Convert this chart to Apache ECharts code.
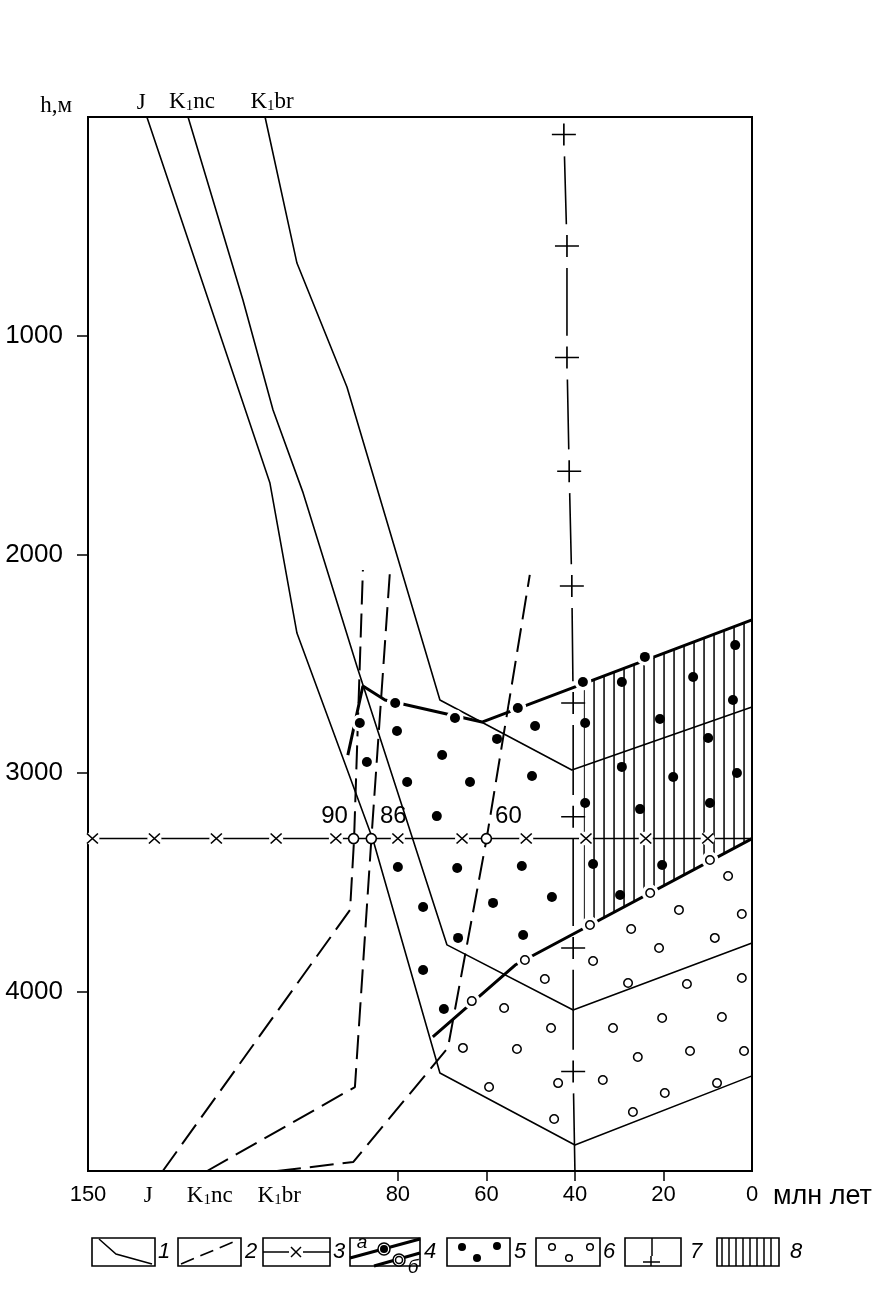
<!DOCTYPE html>
<html><head><meta charset="utf-8">
<script src="https://cdn.jsdelivr.net/npm/echarts@6/dist/echarts.min.js"></script>
<style>html,body{margin:0;padding:0;background:#fff}#c{width:893px;height:1309px}</style>
</head><body><div id="c"></div>
<script>
// ---------- DATA (time: млн лет, depth: м) ----------
const lineJ    = [[136.7,0],[108.9,1674],[102.8,2360],[85.6,3306],[70.5,4372],[40.0,4701],[0,4385]];
const lineK1nc = [[127.4,0],[115.0,837],[108.2,1340],[101.4,1719],[89.2,2515],[68.9,3786],[40.4,4084],[0,3777]];
const lineK1br = [[110.0,0],[102.8,668],[91.5,1235],[70.5,2666],[40.7,2986],[0,2698]];
const dashJ    = [[133.1,4820],[90.8,3626],[89.9,3306],[87.9,2072]];
const dashK1nc = [[123.1,4820],[89.7,4436],[86.0,3306],[81.8,2081]];
const dashK1br = [[107.3,4820],[90.1,4779],[68.7,4257],[60.0,3306],[50.2,2094]];
const refDepth = 3300;
const refMarks = [149,135,121,107.5,94,80,65.5,51,37.5,24,10];
const refAges  = [90,86,60];
const boundA      = [[91.3,2918],[87.9,2602],[82.9,2666],[61.0,2767],[0,2300]];
const boundAMarks = [[88.6,2771],[80.6,2680],[67.1,2748],[52.9,2703],[38.2,2584],[24.2,2469]];
const boundB      = [[72.1,4207],[53.5,3878],[0,3300]];
const boundBMarks = [[63.3,4043],[51.3,3855],[36.6,3695],[23.0,3549],[9.5,3398]];
const wellMarkX = [42.5,41.8,41.8,41.3,40.7,40.4,40.4,40.4,40.4];
const wellMarkY = [80,590,1100,1620,2145,2680,3200,3800,4365];
const wellBottom = [40.0,4820];
const zoneDots = [
 [80.2,2808],[57.6,2844],[49.0,2785],[37.7,2771],[29.4,2584],[20.8,2753],[13.3,2561],[4.3,2666],[3.8,2415],
 [87.0,2950],[70.0,2918],[77.9,3041],[63.7,3041],[49.7,3014],[9.9,2840],[29.4,2972],[17.8,3018],[3.4,3000],
 [71.2,3197],[37.7,3137],[25.3,3165],[9.5,3137],
 [80.0,3430],[66.6,3434],[52.0,3425],[35.9,3416],[20.3,3421],
 [45.2,3567],[58.5,3594],[74.3,3613],[29.8,3558],
 [51.7,3741],[66.4,3754],[74.3,3901],[69.6,4079]
];
const zoneCircles = [
 [16.5,3626],[2.3,3645],[27.3,3713],[21.0,3800],[8.4,3754],[35.9,3860],[46.8,3942],[28.0,3960],[14.7,3965],[2.3,3937],
 [56.0,4075],[45.4,4166],[31.4,4166],[20.3,4120],[6.8,4116],[65.3,4257],[53.1,4262],[25.8,4299],[14.0,4271],[1.8,4271],
 [59.4,4436],[43.8,4418],[33.7,4404],[19.7,4463],[7.9,4418],[44.7,4582],[26.9,4550],[5.4,3471]
];
const hatchStart = 38;
const xLabelValues = [0,20,40,60,80,150];
const xTickValues  = [20,40,60,80];
const yTickValues  = [1000,2000,3000,4000];
const strataNames    = ['J','K1nc','K1br'];
const strataTopAt    = [138.0,126.5,108.4];
const strataBottomAt = [136.4,122.5,106.8];

// ---------- helpers ----------
function yAt(line, x){
  for (let i=0;i<line.length-1;i++){
    const a=line[i], b=line[i+1];
    if ((x<=a[0]&&x>=b[0])||(x>=a[0]&&x<=b[0])) return a[1]+(b[1]-a[1])*(x-a[0])/(b[0]-a[0]);
  }
  return line[line.length-1][1];
}
const hatchPoly = [[hatchStart,yAt(boundA,hatchStart)]]
  .concat(boundA.filter(p=>p[0]<hatchStart))
  .concat(boundB.filter(p=>p[0]<hatchStart).reverse())
  .concat([[hatchStart,yAt(boundB,hatchStart)]]);

// well line broken at the "+" marks
const WELL_GAP = 100;
const wellPts = wellMarkX.map((x,i)=>[x,wellMarkY[i]]).concat([wellBottom]);
const wellSeg = [];
for (let i=0;i<wellPts.length-1;i++){
  const a=wellPts[i], b=wellPts[i+1], L=b[1]-a[1];
  const g2 = (i===wellPts.length-2)?0:WELL_GAP;
  const t1=WELL_GAP/L, t2=1-g2/L;
  wellSeg.push([a[0]+(b[0]-a[0])*t1, a[1]+L*t1]);
  wellSeg.push([a[0]+(b[0]-a[0])*t2, a[1]+L*t2]);
  wellSeg.push('-');
}

const pc = document.createElement('canvas'); pc.width=10; pc.height=10;
const pctx = pc.getContext('2d'); pctx.fillStyle='#000'; pctx.fillRect(3.3,0,1.5,10);
const hatchPattern = {image: pc, repeat: 'repeat'};

function strataRich(name){
  if (name==='J') return '{k|J}';
  return '{k|K}{s|1}{k|'+name.slice(2)+'}';
}
const richStyles = {
  n:{fontFamily:'Liberation Sans', fontSize:22, color:'#000'},
  k:{fontFamily:'Liberation Serif', fontSize:23, color:'#000'},
  s:{fontFamily:'Liberation Serif', fontSize:15, color:'#000', padding:[9,0,0,0]}
};

const BLACK='#000';
function solid(data,w,z){return {type:'line',data,symbol:'none',silent:true,lineStyle:{color:BLACK,width:w},z:z||2};}
function dashed(data){return {type:'line',data,symbol:'none',silent:true,lineStyle:{color:BLACK,width:2,type:[24,9]},z:2};}

const chart = echarts.init(document.getElementById('c'), null, {renderer:'canvas'});
const legendY=1238, legendH=28;
function box(x,w){return {type:'rect',shape:{x:x,y:legendY,width:w,height:legendH},style:{fill:'none',stroke:BLACK,lineWidth:1.6}};}
function num(t,x){return {type:'text',x:x,y:legendY+legendH/2,style:{text:t,font:'italic 22px "Liberation Sans"',fill:BLACK,align:'center',verticalAlign:'middle'}};}
function seg(p,w,dash){return {type:'polyline',shape:{points:p},style:{stroke:BLACK,lineWidth:w||1.5,fill:'none',lineDash:dash||null}};}
function dot(x,y,r,open){return {type:'circle',shape:{cx:x,cy:y,r:r},style:{fill:open?'#fff':BLACK,stroke:BLACK,lineWidth:open?1.5:0}};}
const hatchLegend=[]; for(let x=722;x<776;x+=7) hatchLegend.push(seg([[x,legendY],[x,legendY+legendH]],1.5));

chart.setOption({
  animation:false,
  backgroundColor:'#fff',
  grid:{left:88,right:141,top:117,bottom:138,show:true,borderColor:BLACK,borderWidth:2,backgroundColor:'transparent',outerBoundsMode:'none'},
  xAxis:[{
    type:'value',inverse:true,min:0,max:150,position:'bottom',
    axisLine:{show:true,onZero:false,lineStyle:{color:BLACK,width:2}},
    axisTick:{show:true,length:10,customValues:xTickValues,lineStyle:{color:BLACK,width:1.5}},
    axisLabel:{customValues:xLabelValues.concat(strataBottomAt),margin:13,rich:richStyles,
      formatter:v=>{const i=strataBottomAt.indexOf(v);return i>=0?strataRich(strataNames[i]):'{n|'+v+'}';}},
    splitLine:{show:false}
  },{
    type:'value',inverse:true,min:0,max:150,position:'top',
    axisLine:{show:true,onZero:false,lineStyle:{color:BLACK,width:2}},
    axisTick:{show:false},
    axisLabel:{customValues:strataTopAt,margin:3,rich:richStyles,
      formatter:v=>{const i=strataTopAt.indexOf(v);return i>=0?strataRich(strataNames[i]):'';}},
    splitLine:{show:false}
  }],
  yAxis:{
    type:'value',inverse:true,min:0,max:4820,position:'left',
    axisLine:{show:true,onZero:false,lineStyle:{color:BLACK,width:2}},
    axisTick:{show:true,length:11,customValues:yTickValues,lineStyle:{color:BLACK,width:1.5}},
    axisLabel:{customValues:yTickValues,margin:25,fontFamily:'Liberation Sans',fontSize:26,color:BLACK,formatter:v=>String(v)},
    splitLine:{show:false}
  },
  graphic:[
    {type:'text',x:72,y:106,style:{text:'h,м',font:'23px "Liberation Serif"',fill:BLACK,align:'right',verticalAlign:'middle'}},
    {type:'text',x:773,y:1197,style:{text:'млн лет',font:'27px "Liberation Sans"',fill:BLACK,align:'left',verticalAlign:'middle'}},
    box(92,63), seg([[99,1239],[116,1254],[152,1264]]), num('1',164),
    box(178,63), seg([[181,1264],[238,1240]],1.6,[14,7]), num('2',251),
    box(263,67), seg([[263,1252],[289,1252]]), seg([[291,1247],[301,1257]]), seg([[301,1247],[291,1257]]), seg([[303,1252],[330,1252]]), num('3',339),
    box(350,70), seg([[350,1258],[420,1239]],3), dot(384,1249,6,true), dot(384,1249,4),
    {type:'text',x:362,y:1243,style:{text:'a',font:'italic 19px "Liberation Sans"',fill:BLACK,align:'center',verticalAlign:'middle'}},
    seg([[374,1266],[420,1253]],3), dot(399,1260,6,true), dot(399,1260,3.5,true),
    {type:'text',x:413,y:1268,style:{text:'б',font:'italic 19px "Liberation Sans"',fill:BLACK,align:'center',verticalAlign:'middle'}},
    num('4',430),
    box(447,63), dot(462,1247,4), dot(497,1246,4), dot(477,1258,4), num('5',520),
    box(536,64), dot(552,1247,3.3,true), dot(569,1258,3.3,true), dot(590,1247,3.3,true), num('6',609),
    box(625,56), seg([[652,legendY],[652,1256]]), seg([[651,1256],[651,legendY+legendH]]), seg([[643,1262],[660,1262]]), num('7',696),
    box(717,62)
  ].concat(hatchLegend).concat([num('8',796)]),
  series:[
    {type:'custom',silent:true,z:1,data:[[0,0]],
     renderItem:(params,api)=>({type:'polygon',shape:{points:hatchPoly.map(p=>api.coord(p))},style:{fill:hatchPattern,stroke:null}})},
    solid(lineJ,1.6), solid(lineK1nc,1.6), solid(lineK1br,1.6),
    dashed(dashJ), dashed(dashK1nc), dashed(dashK1br),
    {type:'line',data:[[150,refDepth],[0,refDepth]],symbol:'none',silent:true,lineStyle:{color:BLACK,width:1.5},z:2},
    {type:'line',data:wellSeg,symbol:'none',silent:true,connectNulls:false,lineStyle:{color:BLACK,width:1.6},z:2},
    solid(boundA,3,3), solid(boundB,3,3),
    // white gaps around markers
    {type:'scatter',silent:true,z:4,symbol:'circle',symbolSize:14,itemStyle:{color:'#fff',opacity:1},data:refMarks.map(x=>[x,refDepth])},
    {type:'scatter',silent:true,z:4,symbol:'circle',symbolSize:17,itemStyle:{color:'#fff',opacity:1},data:boundAMarks.concat(boundBMarks)},
    // markers
    {type:'scatter',silent:true,z:5,symbol:'path://M0,0L10,10M10,0L0,10',symbolSize:[11,10],
     itemStyle:{color:'rgba(0,0,0,0)',borderColor:BLACK,borderWidth:1.5,opacity:1},data:refMarks.map(x=>[x,refDepth])},
    {type:'scatter',silent:true,z:5,symbol:'path://M5,0L5,10M0,5L10,5',symbolSize:[24,22],
     itemStyle:{color:'rgba(0,0,0,0)',borderColor:BLACK,borderWidth:1.6,opacity:1},data:wellMarkX.map((x,i)=>[x,wellMarkY[i]])},
    {type:'scatter',silent:true,z:5,symbol:'circle',symbolSize:10,itemStyle:{color:BLACK,opacity:1},data:zoneDots.concat(boundAMarks)},
    {type:'scatter',silent:true,z:5,symbol:'circle',symbolSize:8.5,itemStyle:{color:'#fff',borderColor:BLACK,borderWidth:1.5,opacity:1},data:zoneCircles.concat(boundBMarks)},
    {type:'scatter',silent:true,z:6,symbol:'circle',symbolSize:10,itemStyle:{color:'#fff',borderColor:BLACK,borderWidth:1.6,opacity:1},
     data:refAges.map(a=>({value:[a,refDepth],label:{show:true,formatter:String(a),position:'top',distance:4,
       offset:[a===90?-19:22,0],fontFamily:'Liberation Sans',fontSize:24,color:BLACK,textBorderWidth:0,opacity:1}}))}
  ]
});
</script></body></html>
